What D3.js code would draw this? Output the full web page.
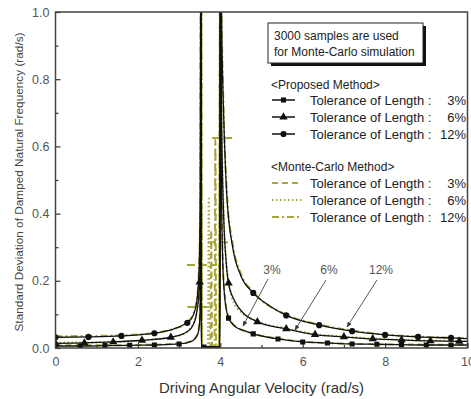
<!DOCTYPE html>
<html>
<head>
<meta charset="utf-8">
<script src="https://cdn.jsdelivr.net/npm/d3@7"></script>
<style>
  body { margin: 0; background: #fff; }
  svg { font-family: "Liberation Sans", Arial, sans-serif; }
</style>
</head>
<body>
<div id="chart"></div>
<script>
// Proposed method (black, with markers) - driving velocity / std deviation
var x3 = [0, 0.6, 1.2, 1.8, 2.4, 3.0, 3.3, 3.45, 3.5, 3.52, 3.53, 3.535, 3.6, 3.99, 4.0, 4.02, 4.05, 4.1, 4.2, 4.35, 4.55, 4.8, 5.4, 6.0, 6.6, 7.2, 7.8, 8.4, 9.0, 9.6, 10];
var y3 = [0.006, 0.006, 0.007, 0.008, 0.009, 0.012, 0.02, 0.04, 0.08, 0.25, 1.3, 0.003, 0.003, 0.003, 1.3, 0.6, 0.3, 0.16, 0.089, 0.065, 0.053, 0.042, 0.027, 0.018, 0.015, 0.012, 0.011, 0.01, 0.009, 0.009, 0.009];
var x6 = [0, 0.7, 1.4, 2.1, 2.8, 3.1, 3.3, 3.42, 3.5, 3.525, 3.535, 3.54, 3.99, 4.0, 4.03, 4.08, 4.14, 4.2, 4.35, 4.55, 4.9, 5.6, 6.3, 7.0, 7.7, 8.4, 9.1, 9.8, 10];
var y6 = [0.014, 0.015, 0.018, 0.023, 0.032, 0.042, 0.06, 0.1, 0.196, 0.5, 1.3, 0.003, 0.003, 1.3, 0.7, 0.4, 0.26, 0.193, 0.14, 0.105, 0.078, 0.057, 0.04, 0.033, 0.027, 0.024, 0.021, 0.02, 0.02];
var x12 = [0, 0.8, 1.6, 2.4, 3.2, 3.35, 3.43, 3.48, 3.51, 3.53, 3.535, 3.99, 4.0, 4.04, 4.08, 4.16, 4.3, 4.5, 4.8, 5.2, 5.6, 6.4, 7.2, 8.0, 8.8, 9.6, 10];
var y12 = [0.032, 0.033, 0.036, 0.044, 0.075, 0.1, 0.14, 0.22, 0.4, 1.3, 0.003, 0.003, 1.3, 0.9, 0.7, 0.45, 0.3, 0.215, 0.164, 0.125, 0.097, 0.068, 0.05, 0.039, 0.033, 0.03, 0.028];

// where the markers sit on each proposed curve
var mark3 = [0, 0.6, 1.2, 1.8, 2.4, 3.0, 3.6, 4.2, 4.8, 5.4, 6.0, 6.6, 7.2, 7.8, 8.4, 9.0, 9.6];
var mark6 = [0, 0.7, 1.4, 2.1, 2.8, 3.5, 4.2, 4.9, 5.6, 6.3, 7.0, 7.7, 8.4, 9.1, 9.8];
var mark12 = [0, 0.8, 1.6, 2.4, 3.2, 4.0, 4.8, 5.6, 6.4, 7.2, 8.0, 8.8, 9.6];

// Monte-Carlo method (olive lines)
var mx3 = [0, 1, 2, 3, 3.3, 3.45, 3.5, 3.52, 3.53, 3.56, 3.76, 3.78, 3.8, 3.97, 4.0, 4.02, 4.05, 4.1, 4.2, 4.4, 4.8, 5.4, 6, 7, 8, 9, 10];
var my3 = [0.008, 0.008, 0.009, 0.013, 0.021, 0.042, 0.085, 0.27, 1.3, 0.004, 0.004, 0.35, 0.004, 0.004, 1.3, 0.62, 0.31, 0.165, 0.092, 0.062, 0.043, 0.028, 0.019, 0.013, 0.011, 0.01, 0.01];
var mx6 = [0, 1, 2, 3, 3.3, 3.42, 3.5, 3.525, 3.535, 3.56, 3.7, 3.72, 3.74, 3.97, 4.0, 4.03, 4.08, 4.14, 4.2, 4.4, 4.9, 5.6, 6.3, 7, 8, 9, 10];
var my6 = [0.016, 0.017, 0.022, 0.037, 0.062, 0.104, 0.2, 0.52, 1.3, 0.005, 0.005, 0.45, 0.005, 0.005, 1.3, 0.72, 0.41, 0.265, 0.197, 0.12, 0.08, 0.058, 0.041, 0.034, 0.026, 0.022, 0.021];
var mx12 = [0, 1, 2, 3, 3.2, 3.35, 3.43, 3.48, 3.51, 3.53, 3.56, 3.86, 3.88, 3.9, 3.97, 4.0, 4.04, 4.08, 4.16, 4.3, 4.5, 4.8, 5.6, 6.4, 7.2, 8, 9, 10];
var my12 = [0.035, 0.036, 0.04, 0.062, 0.077, 0.103, 0.145, 0.225, 0.41, 1.3, 0.006, 0.006, 0.62, 0.006, 0.006, 1.3, 0.92, 0.71, 0.46, 0.31, 0.22, 0.167, 0.099, 0.07, 0.052, 0.04, 0.033, 0.029];

// short horizontal Monte-Carlo segments near resonance
var mcLevel = [0.625, 0.315, 0.247, 0.122];
var mcFrom = [3.8, 3.7, 3.19, 3.2];
var mcTo = [4.36, 4.24, 3.92, 3.8];

var xTicks = [0, 2, 4, 6, 8, 10];
var yTicks = [0, 0.2, 0.4, 0.6, 0.8, 1.0];
var tolLabels = ["3%", "6%", "12%"];

var W = 471, H = 399;
var pLeft = 55.5, pRight = 467.5, pTop = 12, pBottom = 348;
var olive = "#a8a43c";

var svg = d3.select("#chart").append("svg").attr("width", W).attr("height", H);

var x = d3.scaleLinear().domain([0, 10]).range([pLeft, pRight]);
var y = d3.scaleLinear().domain([0, 1]).range([pBottom, pTop]);

svg.append("clipPath").attr("id", "clip")
  .append("rect").attr("x", pLeft).attr("y", pTop).attr("width", pRight - pLeft).attr("height", pBottom - pTop);

// axes with inward ticks, labels only on the major ones
var xAxis = svg.append("g").attr("transform", "translate(0," + pBottom + ")")
  .call(d3.axisBottom(x).tickValues(d3.range(0, 11, 1)).tickSizeInner(-5).tickSizeOuter(0).tickPadding(9)
    .tickFormat(function (d) { return xTicks.indexOf(d) >= 0 ? d : ""; }));
xAxis.selectAll(".tick line").attr("y2", function (d) { return xTicks.indexOf(d) >= 0 ? -5 : -3; });

var yAxis = svg.append("g").attr("transform", "translate(" + pLeft + ",0)")
  .call(d3.axisLeft(y).tickValues(d3.range(0, 1.01, 0.1)).tickSizeInner(-5).tickSizeOuter(0).tickPadding(6)
    .tickFormat(function (d, i) { return i % 2 === 0 ? d3.format(".1f")(yTicks[i / 2]) : ""; }));
yAxis.selectAll(".tick line").attr("x2", function (d, i) { return i % 2 === 0 ? 5 : 3; });

[xAxis, yAxis].forEach(function (a) {
  a.select(".domain").remove();
  a.selectAll(".tick line").attr("stroke", "#333").attr("stroke-width", 1.2);
  a.selectAll("text").attr("font-size", 12.5).attr("fill", "#555");
});

var plot = svg.append("g").attr("clip-path", "url(#clip)");

var line = d3.line().x(function (d) { return x(d[0]); }).y(function (d) { return y(d[1]); })
  .curve(d3.curveMonotoneX);

function pts(xs, ys) { return xs.map(function (v, i) { return [v, ys[i]]; }); }

// Monte-Carlo curves under the black ones
var mcSeries = [
  { d: pts(mx3, my3), dash: "6,4" },
  { d: pts(mx6, my6), dash: "1.5,2.5" },
  { d: pts(mx12, my12), dash: "7,3,2,3" }
];
mcSeries.forEach(function (s) {
  plot.append("path").attr("d", line(s.d)).attr("fill", "none")
    .attr("stroke", olive).attr("stroke-width", 2).attr("stroke-dasharray", s.dash);
});
mcLevel.forEach(function (v, i) {
  plot.append("line").attr("x1", x(mcFrom[i])).attr("x2", x(mcTo[i]))
    .attr("y1", y(v)).attr("y2", y(v))
    .attr("stroke", olive).attr("stroke-width", 2).attr("stroke-dasharray", "8,4");
});

// proposed curves
var propSeries = [
  { xs: x3, ys: y3, marks: mark3, shape: d3.symbolSquare, size: 26 },
  { xs: x6, ys: y6, marks: mark6, shape: d3.symbolTriangle, size: 30 },
  { xs: x12, ys: y12, marks: mark12, shape: d3.symbolCircle, size: 30 }
];
propSeries.forEach(function (s) {
  plot.append("path").attr("d", line(pts(s.xs, s.ys))).attr("fill", "none")
    .attr("stroke", "#111").attr("stroke-width", 1.3);
  plot.selectAll(null).data(s.marks).enter().append("path")
    .attr("d", d3.symbol().type(s.shape).size(s.size))
    .attr("transform", function (m) {
      var v = s.ys[s.xs.indexOf(m)];
      return "translate(" + x(m) + "," + y(v) + ")";
    })
    .attr("fill", "#111");
});

// frame
svg.append("rect").attr("x", pLeft).attr("y", pTop).attr("width", pRight - pLeft).attr("height", pBottom - pTop)
  .attr("fill", "none").attr("stroke", "#444").attr("stroke-width", 1.5);

// axis titles
svg.append("text").attr("x", (pLeft + pRight) / 2).attr("y", 393).attr("text-anchor", "middle")
  .attr("font-size", 15).attr("fill", "#333").text("Driving Angular Velocity (rad/s)");
svg.append("text").attr("transform", "translate(23,182) rotate(-90)").attr("text-anchor", "middle")
  .attr("font-size", 11.8).attr("fill", "#444").text("Standard Deviation of Damped Natural Frequency (rad/s)");

// note box with shadow
svg.append("rect").attr("x", 271).attr("y", 26).attr("width", 155).attr("height", 40).attr("fill", "#111");
svg.append("rect").attr("x", 268).attr("y", 23).attr("width", 155).attr("height", 40)
  .attr("fill", "#fff").attr("stroke", "#222").attr("stroke-width", 1);
svg.append("text").attr("x", 274).attr("y", 40).attr("font-size", 12).attr("fill", "#222").text("3000 samples are used");
svg.append("text").attr("x", 274).attr("y", 56).attr("font-size", 12).attr("fill", "#222").text("for Monte-Carlo simulation");

// legend
var leg = svg.append("g").attr("font-size", 13).attr("fill", "#222");
leg.append("text").attr("x", 271).attr("y", 89).attr("font-size", 12).text("<Proposed Method>");
leg.append("text").attr("x", 271).attr("y", 171).attr("font-size", 12).text("<Monte-Carlo Method>");

propSeries.forEach(function (s, i) {
  var ly = 100 + i * 17;
  leg.append("line").attr("x1", 272).attr("x2", 295).attr("y1", ly).attr("y2", ly)
    .attr("stroke", "#111").attr("stroke-width", 1.5);
  leg.append("path").attr("d", d3.symbol().type(s.shape).size(s.size))
    .attr("transform", "translate(283.5," + ly + ")").attr("fill", "#111");
  leg.append("text").attr("x", 310).attr("y", ly + 4.5).text("Tolerance of Length :");
  leg.append("text").attr("x", 466).attr("y", ly + 4.5).attr("text-anchor", "end").text(tolLabels[i]);
});
mcSeries.forEach(function (s, i) {
  var ly = 183 + i * 17;
  leg.append("line").attr("x1", 272).attr("x2", 302).attr("y1", ly).attr("y2", ly)
    .attr("stroke", olive).attr("stroke-width", 2).attr("stroke-dasharray", s.dash);
  leg.append("text").attr("x", 310).attr("y", ly + 4.5).text("Tolerance of Length :");
  leg.append("text").attr("x", 466).attr("y", ly + 4.5).attr("text-anchor", "end").text(tolLabels[i]);
});

// annotation arrows
svg.append("defs").append("marker").attr("id", "arr").attr("viewBox", "0 0 10 10")
  .attr("refX", 9).attr("refY", 5).attr("markerWidth", 6).attr("markerHeight", 6).attr("orient", "auto")
  .append("path").attr("d", "M0,1 L10,5 L0,9 Z").attr("fill", "#333");
var notes = [
  { t: "3%", tx: 272, x1: 268, y1: 279, x2: 243, y2: 326 },
  { t: "6%", tx: 329, x1: 326, y1: 280, x2: 295, y2: 330 },
  { t: "12%", tx: 381, x1: 377, y1: 280, x2: 347, y2: 327 }
];
notes.forEach(function (n) {
  svg.append("text").attr("x", n.tx).attr("y", 274).attr("text-anchor", "middle")
    .attr("font-size", 12).attr("fill", "#555").text(n.t);
  svg.append("line").attr("x1", n.x1).attr("y1", n.y1).attr("x2", n.x2).attr("y2", n.y2)
    .attr("stroke", "#444").attr("stroke-width", 0.9).attr("marker-end", "url(#arr)");
});
</script>
</body>
</html>
